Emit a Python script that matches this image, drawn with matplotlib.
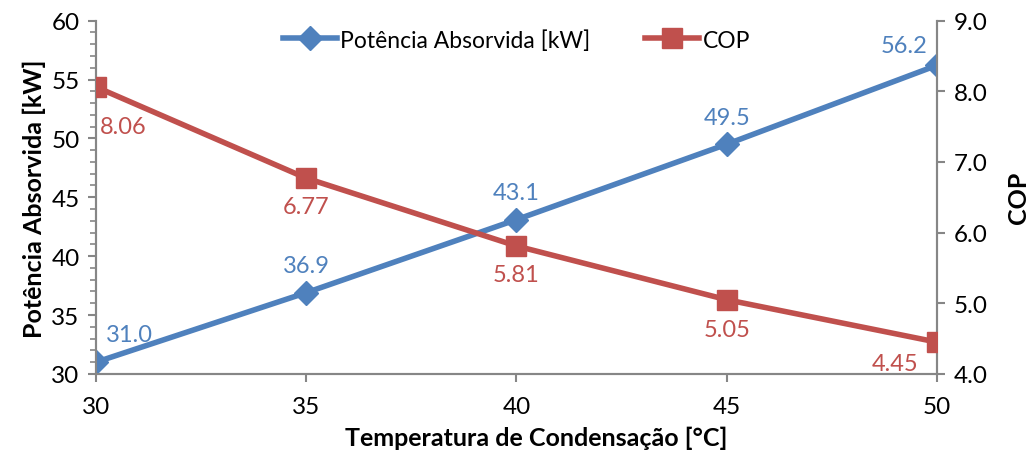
import matplotlib
matplotlib.use("Agg")
import matplotlib.pyplot as plt
from matplotlib.ticker import MultipleLocator, FormatStrFormatter

plt.rcParams['font.family'] = ['Lato', 'DejaVu Sans']

temperatura = [30, 35, 40, 45, 50]
potencia = [31.0, 36.9, 43.1, 49.5, 56.2]
cop = [8.06, 6.77, 5.81, 5.05, 4.45]

blue = '#4F81BD'
red = '#C0504D'
grey = '#868686'

fig = plt.figure(figsize=(10.34, 4.6), dpi=100)
ax = fig.add_axes([0.093, 0.185, 0.813, 0.768])
ax2 = ax.twinx()

l1, = ax.plot(temperatura, potencia, color=blue, lw=4, marker='D', ms=12.5,
              label='Potência Absorvida [kW]', zorder=3)
l2, = ax2.plot(temperatura, cop, color=red, lw=4, marker='s', ms=14.5,
               label='COP', zorder=3)

ax.set_xlim(30, 50)
ax.set_ylim(30, 60)
ax2.set_ylim(4.0, 9.0)
ax.set_xticks(temperatura)
ax.yaxis.set_major_locator(MultipleLocator(5))
ax.yaxis.set_minor_locator(MultipleLocator(1))
ax2.yaxis.set_major_locator(MultipleLocator(1))
ax2.yaxis.set_major_formatter(FormatStrFormatter('%.1f'))

for a in (ax, ax2):
    for s in a.spines.values():
        s.set_color(grey)
        s.set_linewidth(1.5)
    a.spines['top'].set_visible(False)
    a.tick_params(colors=grey, labelcolor='black', labelsize=17.5, width=1.5,
                  length=6)
    a.tick_params(which='minor', colors=grey, width=1.2, length=4)
ax.tick_params(axis='x', pad=10)
ax.tick_params(axis='y', pad=6)
ax2.tick_params(axis='y', pad=6)

ax.set_xlabel('Temperatura de Condensação [°C]', fontsize=18, fontweight='bold',
              labelpad=6, x=0.523)
ax.set_ylabel('Potência Absorvida [kW]', fontsize=18, fontweight='bold',
              labelpad=4)
ax2.set_ylabel('COP', fontsize=18, fontweight='bold', labelpad=14)

# value labels
blue_off = [(7, 12), (0, 12), (0, 12), (0, 12), (-7, 7)]
for x, y, (dx, dy) in zip(temperatura, potencia, blue_off):
    ax.annotate(f'{y:.1f}', (x, y), xytext=(dx, dy), textcoords='offset points',
                ha='left' if dx > 0 else ('right' if dx < 0 else 'center'),
                va='bottom', color=blue, fontsize=17)
red_off = [(3, -21), (0, -13), (0, -13), (0, -14), (-13, -8)]
for x, y, (dx, dy) in zip(temperatura, cop, red_off):
    ax2.annotate(f'{y:.2f}', (x, y), xytext=(dx, dy), textcoords='offset points',
                 ha='left' if dx > 0 else ('right' if dx < 0 else 'center'),
                 va='top', color=red, fontsize=17)

leg = ax.legend(handles=[l1, l2], loc='upper center', bbox_to_anchor=(0.5, 1.035),
                ncol=2, frameon=False, fontsize=16.5, handlelength=2.35,
                columnspacing=2.4, handletextpad=0.15)

fig.savefig('out.png', dpi=100)
